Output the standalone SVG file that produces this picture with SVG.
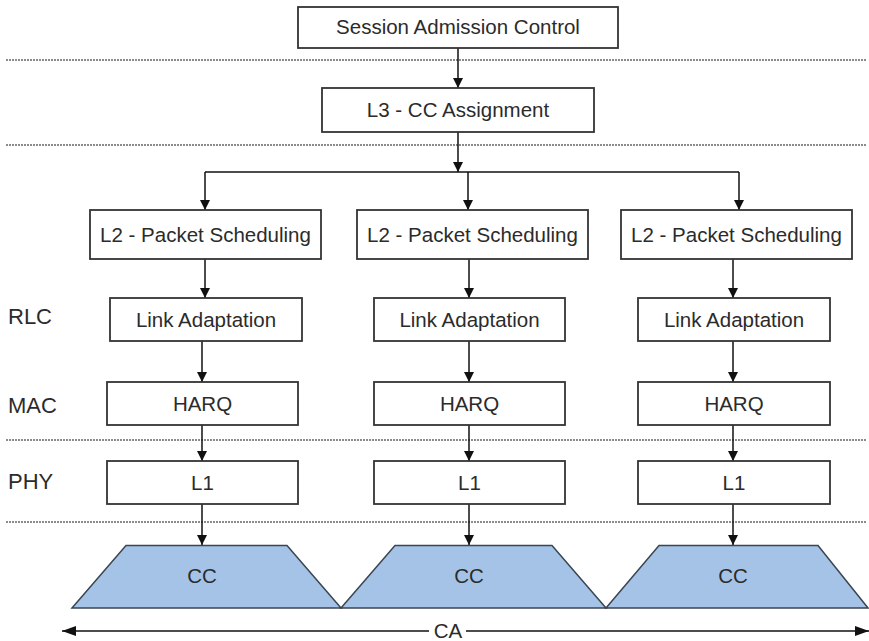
<svg xmlns="http://www.w3.org/2000/svg" width="869" height="641" viewBox="0 0 869 641">
<style>
  .box { fill: #ffffff; stroke: #333333; stroke-width: 1.8; }
  .cc { fill: #a4c3e7; stroke: #3a4550; stroke-width: 1.5; }
  .t { font-family: "Liberation Sans", Arial, sans-serif; font-size: 20.5px; fill: #2b2b2b; text-anchor: middle; }
  .lbl { font-family: "Liberation Sans", Arial, sans-serif; font-size: 22px; fill: #2b2b2b; }
  .sep { stroke: #666666; stroke-width: 1.5; stroke-dasharray: 2 1; fill: none; }
  .conn { stroke: #111111; stroke-width: 1.5; fill: none; }
</style>
<defs>
  <marker id="ah" markerUnits="userSpaceOnUse" markerWidth="10" markerHeight="10" refX="10" refY="5" orient="auto">
    <path d="M0,0 L10,5 L0,10 z" fill="#111111"/>
  </marker>
  <marker id="ah2" markerUnits="userSpaceOnUse" markerWidth="14" markerHeight="10" refX="14" refY="5" orient="auto">
    <path d="M0,0 L14,5 L0,10 z" fill="#111111"/>
  </marker>
</defs>

<g id="separators">
  <line class="sep" x1="6" y1="60" x2="866" y2="60"/>
  <line class="sep" x1="6" y1="145" x2="866" y2="145"/>
  <line class="sep" x1="6" y1="440" x2="866" y2="440"/>
  <line class="sep" x1="6" y1="522" x2="866" y2="522"/>
</g>

<g id="layer-labels">
  <text class="lbl" x="8" y="324">RLC</text>
  <text class="lbl" x="8" y="413">MAC</text>
  <text class="lbl" x="8" y="489">PHY</text>
</g>

<g id="connectors">
  <line class="conn" x1="458" y1="48" x2="458" y2="88" marker-end="url(#ah)"/>
  <line class="conn" x1="458" y1="132" x2="458" y2="172" marker-end="url(#ah)"/>
  <line class="conn" x1="205" y1="172" x2="739" y2="172"/>
  <line class="conn" x1="205" y1="172" x2="205" y2="210" marker-end="url(#ah)"/>
  <line class="conn" x1="468" y1="172" x2="468" y2="210" marker-end="url(#ah)"/>
  <line class="conn" x1="739" y1="172" x2="739" y2="210" marker-end="url(#ah)"/>

  <line class="conn" x1="205" y1="259" x2="205" y2="298" marker-end="url(#ah)"/>
  <line class="conn" x1="202" y1="341" x2="202" y2="382" marker-end="url(#ah)"/>
  <line class="conn" x1="202" y1="425" x2="202" y2="461" marker-end="url(#ah)"/>
  <line class="conn" x1="202" y1="504" x2="202" y2="545" marker-end="url(#ah)"/>

  <line class="conn" x1="469" y1="259" x2="469" y2="298" marker-end="url(#ah)"/>
  <line class="conn" x1="469" y1="341" x2="469" y2="382" marker-end="url(#ah)"/>
  <line class="conn" x1="469" y1="425" x2="469" y2="461" marker-end="url(#ah)"/>
  <line class="conn" x1="469" y1="504" x2="469" y2="545" marker-end="url(#ah)"/>

  <line class="conn" x1="733" y1="259" x2="733" y2="298" marker-end="url(#ah)"/>
  <line class="conn" x1="733" y1="341" x2="733" y2="382" marker-end="url(#ah)"/>
  <line class="conn" x1="733" y1="425" x2="733" y2="461" marker-end="url(#ah)"/>
  <line class="conn" x1="733" y1="504" x2="733" y2="545" marker-end="url(#ah)"/>

  <line class="conn" x1="429" y1="631" x2="62" y2="631" marker-end="url(#ah2)"/>
  <line class="conn" x1="466" y1="631" x2="869" y2="631" marker-end="url(#ah2)"/>
</g>

<g id="session-admission-control">
  <rect class="box" x="298" y="7" width="320" height="41"/>
  <text class="t" x="458" y="34">Session Admission Control</text>
</g>
<g id="l3-cc-assignment">
  <rect class="box" x="322" y="88" width="272" height="44"/>
  <text class="t" x="458" y="117">L3 - CC Assignment</text>
</g>

<g id="l2-1">
  <rect class="box" x="90" y="210" width="231" height="49"/>
  <text class="t" x="205.5" y="242">L2 - Packet Scheduling</text>
</g>
<g id="l2-2">
  <rect class="box" x="357" y="210" width="231" height="49"/>
  <text class="t" x="472.5" y="242">L2 - Packet Scheduling</text>
</g>
<g id="l2-3">
  <rect class="box" x="621" y="210" width="231" height="49"/>
  <text class="t" x="736.5" y="242">L2 - Packet Scheduling</text>
</g>

<g id="la-1">
  <rect class="box" x="110" y="298" width="192" height="43"/>
  <text class="t" x="206" y="327">Link Adaptation</text>
</g>
<g id="la-2">
  <rect class="box" x="374" y="298" width="191" height="43"/>
  <text class="t" x="469.5" y="327">Link Adaptation</text>
</g>
<g id="la-3">
  <rect class="box" x="638" y="298" width="192" height="43"/>
  <text class="t" x="734" y="327">Link Adaptation</text>
</g>

<g id="harq-1">
  <rect class="box" x="107" y="382" width="191" height="43"/>
  <text class="t" x="202.5" y="411">HARQ</text>
</g>
<g id="harq-2">
  <rect class="box" x="374" y="382" width="191" height="43"/>
  <text class="t" x="469.5" y="411">HARQ</text>
</g>
<g id="harq-3">
  <rect class="box" x="638" y="382" width="192" height="43"/>
  <text class="t" x="734" y="411">HARQ</text>
</g>

<g id="l1-1">
  <rect class="box" x="107" y="461" width="191" height="43"/>
  <text class="t" x="202.5" y="490">L1</text>
</g>
<g id="l1-2">
  <rect class="box" x="374" y="461" width="191" height="43"/>
  <text class="t" x="469.5" y="490">L1</text>
</g>
<g id="l1-3">
  <rect class="box" x="638" y="461" width="192" height="43"/>
  <text class="t" x="734" y="490">L1</text>
</g>

<g id="cc-1">
  <polygon class="cc" points="72,608 126,545.5 287,545.5 341,608"/>
  <text class="t" x="202" y="583">CC</text>
</g>
<g id="cc-2">
  <polygon class="cc" points="341,608 395,545.5 552,545.5 606,608"/>
  <text class="t" x="469" y="583">CC</text>
</g>
<g id="cc-3">
  <polygon class="cc" points="606,608 659,545.5 818,545.5 868,608"/>
  <text class="t" x="733" y="583">CC</text>
</g>

<g id="ca-label">
  <text class="t" x="448" y="638">CA</text>
</g>
</svg>
